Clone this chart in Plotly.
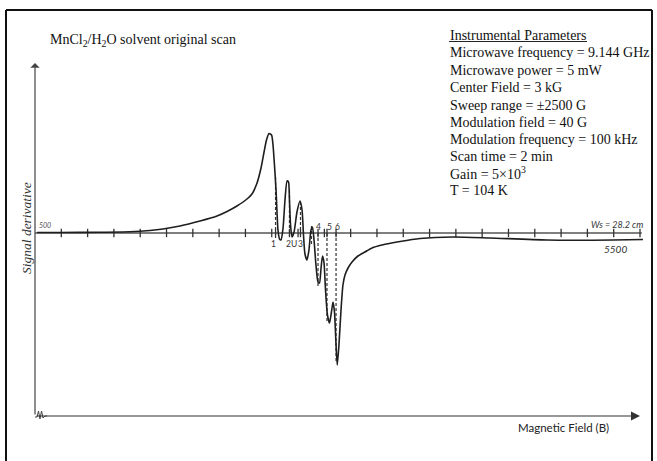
import plotly.graph_objects as go

# ---------------- data (magnetic field in G, signal derivative in a.u.) ----------------
field = [517, 707, 1037, 1285, 1450, 1558, 1698, 1864, 2004, 2087, 2169, 2252, 2293, 2335,
         2368, 2393, 2413, 2434, 2455, 2467, 2479, 2492, 2500, 2508, 2521, 2533, 2550, 2566,
         2583, 2595, 2603, 2612, 2624, 2641, 2665, 2690, 2707, 2719, 2731, 2748, 2764, 2781,
         2793, 2806, 2822, 2839, 2851, 2864, 2876, 2888, 2901, 2917, 2934, 2950, 2963, 2975,
         2988, 2998, 3012, 3029, 3045, 3062, 3087, 3120, 3169, 3227, 3285, 3368, 3517, 3682,
         3955, 4260, 4731, 5277, 5525]
signal = [0.005, 0.005, 0.007, 0.012, 0.025, 0.04, 0.07, 0.12, 0.17, 0.215, 0.27, 0.34, 0.39, 0.50,
          0.65, 0.81, 0.93, 0.995, 0.98, 0.88, 0.68, 0.43, 0.21, 0.03, -0.06, -0.07, 0.05, 0.33,
          0.52, 0.51, 0.33, 0.08, -0.04, 0.01, 0.21, 0.32, 0.23, -0.02, -0.21, -0.27, -0.17, 0.03,
          0.06, -0.07, -0.32, -0.49, -0.50, -0.35, -0.23, -0.29, -0.57, -0.82, -0.90, -0.79, -0.69, -0.79,
          -1.12, -1.32, -1.12, -0.77, -0.52, -0.42, -0.35, -0.29, -0.23, -0.19, -0.15, -0.12, -0.085, -0.055,
          -0.04, -0.05, -0.07, -0.07, -0.065]

# hyperfine line markers (dashed verticals)
marker_field = [2488, 2603, 2694, 2785, 2839, 2913, 2988]
marker_top = [0.56, 0.43, 0.31, 0.07, 0.0, 0.0, 0.0]
marker_bottom = [-0.05, -0.03, -0.03, -0.12, -0.54, -0.89, -1.29]

peak_labels = ["1", "2", "U", "3", "4", "5", "6"]
peak_label_field = [2475, 2599, 2643, 2698, 2841, 2930, 3002]
peak_label_signal = [-0.11, -0.11, -0.11, -0.11, 0.063, 0.063, 0.063]

# field scale of the recorder chart
field_start = 500
field_end = 5500
n_divisions = 23
extra_ticks = [2488, 2603, 2694, 2839, 2913, 2988]
tick_fields = [field_start + k * (field_end - field_start) / n_divisions for k in range(1, n_divisions + 1)] + extra_ticks

axis_bottom_signal = -1.83
axis_top_signal = 1.70

zigzag_field = [500, 517, 529, 541, 554, 566, 583, 599]
zigzag_signal = [-1.84, -1.84, -1.78, -1.86, -1.78, -1.85, -1.83, -1.83]

title_text = "MnCl<sub>2</sub>/H<sub>2</sub>O solvent original scan"
param_lines = [
    "Instrumental Parameters",
    "Microwave frequency = 9.144 GHz",
    "Microwave power = 5 mW",
    "Center Field = 3 kG",
    "Sweep range = ±2500 G",
    "Modulation field = 40 G",
    "Modulation frequency = 100 kHz",
    "Scan time = 2 min",
    "Gain = 5×10<sup>3</sup>",
    "T = 104 K",
]
y_label = "Signal derivative"
x_label = "Magnetic Field (B)"

# ---------------- figure ----------------
W, H = 657, 461
def px(x):
    return x / W
def py(y):
    return 1 - y / H

ink = "#1e1e1e"
fig = go.Figure()

# baseline of the recorder
fig.add_trace(go.Scatter(x=[field_start, 5515], y=[0, 0], mode="lines",
                         line=dict(color="#555555", width=1.3), hoverinfo="skip"))
fig.add_trace(go.Scatter(x=tick_fields, y=[0] * len(tick_fields), mode="markers",
                         marker=dict(symbol="line-ns-open", size=6, color="#333333",
                                     line=dict(color="#333333", width=1.3)),
                         hoverinfo="skip"))
# dashed marker lines
for f, t, b in zip(marker_field, marker_top, marker_bottom):
    fig.add_trace(go.Scatter(x=[f, f], y=[t, b], mode="lines",
                             line=dict(color="#333333", width=1.2, dash="3px,2px"), hoverinfo="skip"))
# spectrum
fig.add_trace(go.Scatter(x=field, y=signal, mode="lines",
                         line=dict(color=ink, width=1.6, shape="spline", smoothing=0.6), hoverinfo="skip"))
# zigzag at bottom of vertical axis
fig.add_trace(go.Scatter(x=zigzag_field, y=zigzag_signal, mode="lines",
                         line=dict(color="#444444", width=1), hoverinfo="skip"))

annotations = []
# vertical axis arrow
annotations.append(dict(x=field_start, y=axis_top_signal, ax=field_start, ay=axis_bottom_signal,
                        xref="x", yref="y", axref="x", ayref="y", text="", showarrow=True,
                        arrowhead=1, arrowsize=1.3, arrowwidth=1.2, arrowcolor="#444444", standoff=0))
# horizontal axis arrow
annotations.append(dict(x=field_end, y=axis_bottom_signal, ax=field_start, ay=axis_bottom_signal,
                        xref="x", yref="y", axref="x", ayref="y", text="", showarrow=True,
                        arrowhead=2, arrowsize=1.5, arrowwidth=1.2, arrowcolor="#333333", standoff=0))

serif = "Liberation Serif, Times New Roman, serif"
hand = "Lato, DejaVu Sans, sans-serif"

annotations.append(dict(x=px(48), y=py(40), xref="paper", yref="paper", xanchor="left", yanchor="middle",
                        text=title_text, showarrow=False, font=dict(family=serif, size=14, color="#111111")))
param_y = [35.5, 53, 70.5, 88, 105.5, 122.5, 139.5, 156.5, 173, 190]
for t, yy in zip(param_lines, param_y):
    annotations.append(dict(x=px(448), y=py(yy), xref="paper", yref="paper", xanchor="left", yanchor="middle",
                            text=t, showarrow=False, font=dict(family=serif, size=14, color="#111111")))

annotations.append(dict(x=px(26), y=py(228), xref="paper", yref="paper", xanchor="center", yanchor="middle",
                        text=y_label, textangle=-90, showarrow=False,
                        font=dict(family=serif, size=13.5, color="#333333", style="italic")))
annotations.append(dict(x=px(37), y=py(225), xref="paper", yref="paper", xanchor="left", yanchor="middle",
                        text="500", showarrow=False, font=dict(family=hand, size=7, color="#555555", style="italic")))
annotations.append(dict(x=px(617), y=py(224), xref="paper", yref="paper", xanchor="center", yanchor="middle",
                        text="Ws = 28.2 cm", showarrow=False, font=dict(family=hand, size=9, color="#333333", style="italic")))
annotations.append(dict(x=px(615), y=py(249), xref="paper", yref="paper", xanchor="center", yanchor="middle",
                        text="5500", showarrow=False, font=dict(family=hand, size=10, color="#333333", style="italic")))
annotations.append(dict(x=px(563), y=py(427), xref="paper", yref="paper", xanchor="center", yanchor="middle",
                        text=x_label, showarrow=False, font=dict(family=hand, size=11.5, color="#222222")))
for lab, f, s in zip(peak_labels, peak_label_field, peak_label_signal):
    annotations.append(dict(x=f, y=s, xref="x", yref="y", xanchor="center", yanchor="middle",
                            text=lab, showarrow=False, font=dict(family=hand, size=8.5, color="#333333")))

shapes = [
    # frame (left, top, right)
    dict(type="line", xref="paper", yref="paper", x0=px(6), x1=px(6), y0=py(10), y1=py(470),
         line=dict(color="#111111", width=2)),
    dict(type="line", xref="paper", yref="paper", x0=px(6), x1=px(652), y0=py(10), y1=py(10),
         line=dict(color="#111111", width=2)),
    dict(type="line", xref="paper", yref="paper", x0=px(652), x1=px(652), y0=py(10), y1=py(470),
         line=dict(color="#111111", width=2)),
    # underline of the parameter heading
    dict(type="line", xref="paper", yref="paper", x0=px(449), x1=px(587), y0=py(41.5), y1=py(41.5),
         line=dict(color="#222222", width=1)),
]

fig.update_layout(
    width=W, height=H, margin=dict(l=0, r=0, t=0, b=0),
    paper_bgcolor="white", plot_bgcolor="white", showlegend=False,
    xaxis=dict(range=[210.7, 5640.5], visible=False, fixedrange=True),
    yaxis=dict(range=[-2.28, 2.33], visible=False, fixedrange=True),
    annotations=annotations, shapes=shapes,
)

fig.write_html("out.html", config={"displayModeBar": False},
               post_script="document.body.style.margin='0px';document.body.style.overflow='hidden';")
